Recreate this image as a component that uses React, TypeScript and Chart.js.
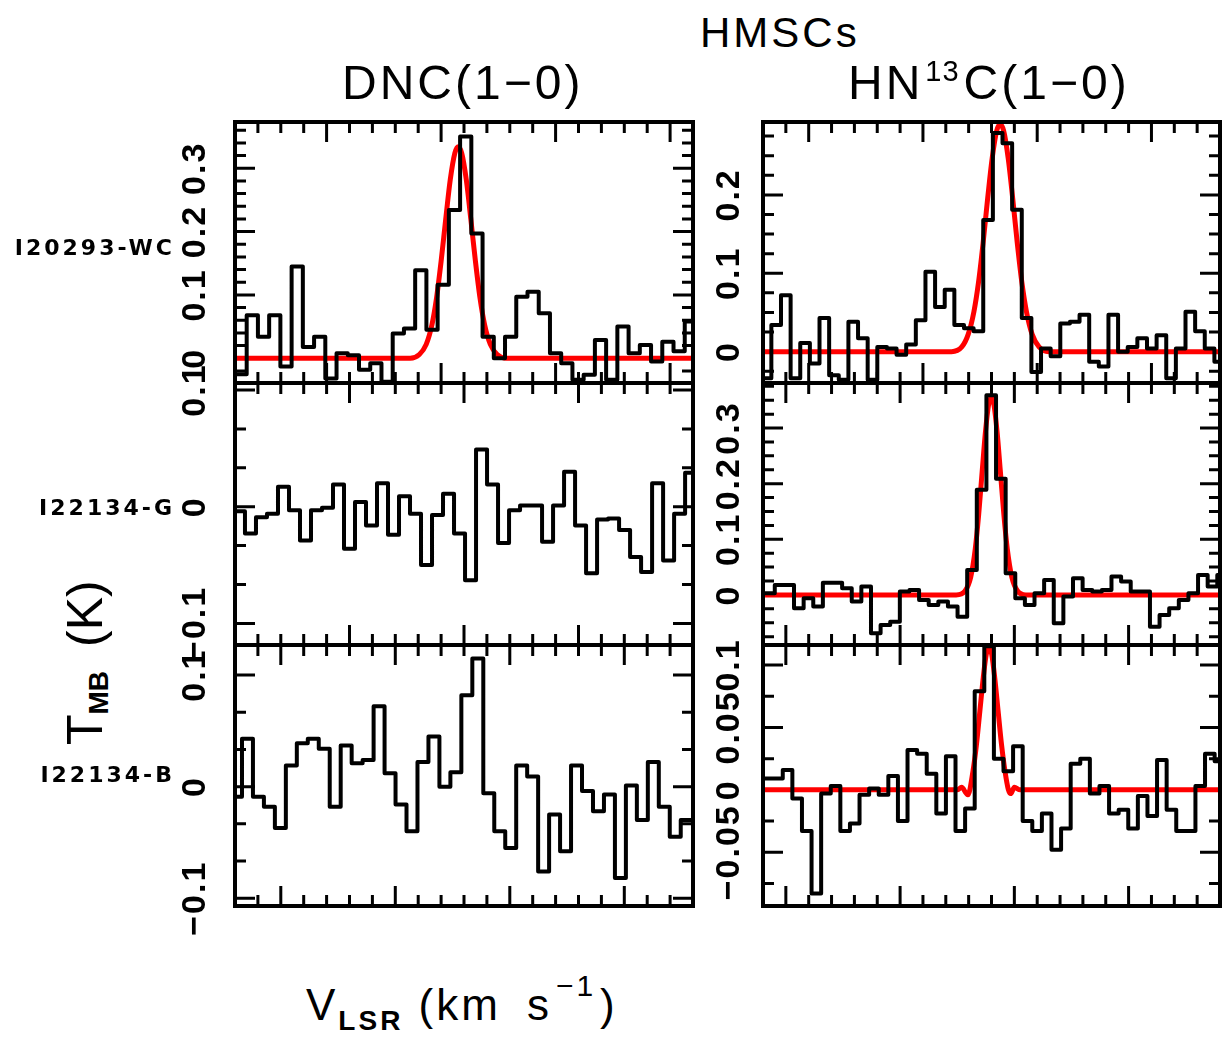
import React, { useEffect, useRef } from "react";
import { Chart, registerables } from "chart.js";

Chart.register(...registerables);

// ---------------- data ----------------
const sources = ["I20293-WC", "I22134-G", "I22134-B"];

// velocity axis of every panel (km/s)
const dncVelocityRange = [[-18, 22], [-20, 20], [-14, 26]];
const hn13cVelocityRange = [[-14, 26], [-12, 28], [-12, 28]];

// channel grid of each spectrum: centre of first channel, channel width (km/s)
const dncChannelStart = [-17.47, -19.61, -13.87];
const dncChannelWidth = [0.981, 0.961, 0.958];
const hn13cChannelStart = [-13.69, -11.39, -11.53];
const hn13cChannelWidth = [0.843, 0.842, 0.84];

// observed spectra, T_MB (K)
const dncI20293 = [-0.025, 0.068, 0.034, 0.068, -0.013, 0.145, 0.018, 0.034, -0.032, 0.008, 0.005, -0.018, -0.008, -0.037, 0.039, 0.047, 0.139, 0.045, 0.116, 0.234, 0.35, 0.197, 0.034, 0.0, 0.034, 0.097, 0.105, 0.071, 0.008, -0.008, -0.034, -0.026, 0.029, -0.034, 0.05, 0.008, 0.021, -0.005, 0.026, 0.011, 0.058];
const dncI22134G = [-0.004, -0.023, -0.009, -0.006, 0.017, -0.003, -0.029, -0.003, -0.001, 0.019, -0.036, 0.004, -0.016, 0.02, -0.024, 0.009, -0.006, -0.05, -0.007, 0.011, -0.023, -0.063, 0.049, 0.019, -0.031, -0.003, 0.001, 0.001, -0.03, 0.001, 0.03, -0.016, -0.057, -0.011, -0.01, -0.02, -0.043, -0.056, 0.02, -0.046, -0.006, 0.029];
const dncI22134B = [-0.009, 0.043, -0.009, -0.018, -0.037, 0.019, 0.039, 0.043, 0.034, -0.018, 0.037, 0.021, 0.024, 0.072, 0.012, -0.016, -0.04, 0.022, 0.045, 0.0, 0.013, 0.082, 0.115, -0.006, -0.04, -0.055, 0.019, 0.009, -0.076, -0.025, -0.058, 0.019, -0.004, -0.022, -0.007, -0.082, 0.001, -0.03, 0.022, -0.018, -0.045, -0.03];
const hn13cI20293 = [-0.034, 0.034, 0.072, -0.034, 0.011, -0.015, 0.043, -0.03, -0.036, 0.038, 0.017, -0.036, 0.006, 0.004, -0.004, 0.009, 0.04, 0.102, 0.057, 0.079, 0.034, 0.03, 0.026, 0.168, 0.279, 0.266, 0.181, 0.043, -0.026, 0.004, -0.006, 0.036, 0.038, 0.047, -0.013, -0.019, 0.047, 0.0, 0.006, 0.017, 0.004, 0.021, -0.034, 0.004, 0.051, 0.026, 0.004, -0.013];
const hn13cI22134G = [0.003, 0.018, 0.018, -0.024, -0.006, -0.021, 0.022, 0.022, 0.012, -0.012, 0.015, -0.069, -0.054, -0.048, 0.006, 0.009, -0.009, -0.018, -0.012, -0.021, -0.039, 0.045, 0.189, 0.359, 0.209, 0.039, -0.006, -0.018, 0.003, 0.027, -0.051, -0.003, 0.03, 0.009, 0.006, 0.009, 0.033, 0.024, 0.006, 0.006, -0.057, -0.036, -0.024, -0.009, 0.003, 0.036, 0.015, 0.036];
const hn13cI22134B = [0.009, 0.009, 0.016, -0.007, -0.033, -0.083, -0.003, 0.003, -0.033, -0.027, -0.004, 0.001, -0.004, 0.011, -0.025, 0.032, 0.029, 0.013, -0.019, 0.027, -0.033, -0.015, 0.079, 0.115, 0.025, 0.015, 0.035, -0.025, -0.033, -0.019, -0.048, -0.031, 0.021, 0.025, -0.003, 0.003, -0.019, -0.016, -0.031, -0.005, -0.021, 0.024, -0.016, -0.033, -0.033, 0.003, 0.029, 0.023];

// Gaussian fits (red), [velocity, T_MB]
const dncI20293Fit = [[-18, 0], [-2.7, 0], [-1.9, 0.006], [-1.3, 0.022], [-0.8, 0.053], [-0.4, 0.095], [0, 0.153], [0.4, 0.219], [0.8, 0.282], [1.2, 0.324], [1.5, 0.334], [1.8, 0.324], [2.2, 0.282], [2.6, 0.219], [3.0, 0.153], [3.4, 0.095], [3.8, 0.053], [4.3, 0.022], [4.9, 0.006], [5.7, 0], [22, 0]];
const hn13cI20293Fit = [[-14, 0], [2.5, 0], [3.4, 0.006], [3.96, 0.022], [4.46, 0.051], [4.86, 0.088], [5.26, 0.138], [5.66, 0.195], [6.06, 0.247], [6.46, 0.282], [6.76, 0.29], [7.06, 0.282], [7.46, 0.247], [7.86, 0.195], [8.26, 0.138], [8.66, 0.088], [9.06, 0.051], [9.56, 0.022], [10.16, 0.006], [11, 0], [26, 0]];
const hn13cI22134GFit = [[-12, 0], [4.9, 0], [5.68, 0.007], [6.18, 0.032], [6.58, 0.083], [6.88, 0.145], [7.18, 0.221], [7.48, 0.295], [7.73, 0.34], [7.98, 0.356], [8.23, 0.34], [8.48, 0.295], [8.78, 0.221], [9.08, 0.145], [9.38, 0.083], [9.78, 0.032], [10.28, 0.007], [11, 0], [28, 0]];
const hn13cI22134BFit = [[-12, 0], [5.0, 0], [5.38, 0.002], [5.93, -0.004], [6.38, 0.015], [6.68, 0.036], [6.98, 0.063], [7.28, 0.09], [7.53, 0.108], [7.78, 0.115], [8.03, 0.108], [8.28, 0.09], [8.58, 0.063], [8.88, 0.036], [9.18, 0.015], [9.48, 0], [9.68, -0.003], [10.0, 0.002], [10.5, 0], [28, 0]];

// y axes
const dncYRange = [[-0.039, 0.373], [-0.1185, 0.106], [-0.107, 0.127]];
const hn13cYRange = [[-0.04, 0.293], [-0.09, 0.381], [-0.093, 0.116]];
const dncYTickLabels = [[0, 0.1, 0.2, 0.3], [-0.1, 0, 0.1], [-0.1, 0, 0.1]];
const hn13cYTickLabels = [[0, 0.1, 0.2], [0, 0.1, 0.2, 0.3], [-0.05, 0, 0.05, 0.1]];
const dncYMajor = [0.1, 0.1, 0.1];
const dncYMinorPerMajor = [5, 3, 3];
const hn13cYMajor = [0.1, 0.1, 0.05];
const hn13cYMinorPerMajor = [4, 4, 2];
const xMajorStep = 10;
const xMinorPerMajor = 5;

// ---------------- layout ----------------
const COLS = [{ left: 235, right: 693, labelOffset: 39 }, { left: 763, right: 1220, labelOffset: 33 }];
const ROWS = [{ top: 122, bottom: 383 }, { top: 383, bottom: 645 }, { top: 645, bottom: 906 }];
const PAD = { left: 80, right: 8, top: 44, bottom: 44 };
const SANS = '"Liberation Sans", Arial, sans-serif';

function spectrum(start: number, width: number, values: number[], range: number[]) {
  const pts = values.map((y, i) => ({ x: start + i * width, y }));
  if (pts[0].x > range[0]) pts.unshift({ x: range[0], y: pts[0].y });
  const last = pts[pts.length - 1];
  if (last.x < range[1]) pts.push({ x: range[1], y: last.y });
  return pts;
}

function fmt(v: number) {
  return String(v).replace("-", "\u2212");
}

type PanelCfg = {
  key: string;
  col: number;
  row: number;
  xRange: number[];
  yRange: number[];
  spec: { x: number; y: number }[];
  fit: number[][] | null;
  yLabels: number[];
  yMajor: number;
  yMinorPerMajor: number;
};

function Panel({ cfg }: { cfg: PanelCfg }) {
  const ref = useRef<HTMLCanvasElement>(null);
  const col = COLS[cfg.col];
  const row = ROWS[cfg.row];
  const w = col.right - col.left + PAD.left + PAD.right;
  const h = row.bottom - row.top + PAD.top + PAD.bottom;

  useEffect(() => {
    const framePlugin = {
      id: "frame_" + cfg.key,
      beforeDatasetsDraw(chart: any) {
        const { ctx, chartArea: a, scales } = chart;
        const xs = scales.x;
        const ys = scales.y;
        ctx.save();
        ctx.strokeStyle = "#000";
        ctx.lineWidth = 3;
        ctx.lineCap = "butt";
        ctx.beginPath();
        const xMinor = xMajorStep / xMinorPerMajor;
        for (let k = Math.ceil(xs.min / xMinor - 1e-6); k * xMinor <= xs.max + 1e-6; k++) {
          const px = xs.getPixelForValue(k * xMinor);
          const len = k % xMinorPerMajor === 0 ? 20 : 11;
          ctx.moveTo(px, a.top);
          ctx.lineTo(px, a.top + len);
          ctx.moveTo(px, a.bottom);
          ctx.lineTo(px, a.bottom - len);
        }
        const yMinor = cfg.yMajor / cfg.yMinorPerMajor;
        for (let k = Math.ceil(ys.min / yMinor - 1e-6); k * yMinor <= ys.max + 1e-6; k++) {
          const py = ys.getPixelForValue(k * yMinor);
          const len = k % cfg.yMinorPerMajor === 0 ? 20 : 11;
          ctx.moveTo(a.left, py);
          ctx.lineTo(a.left + len, py);
          ctx.moveTo(a.right, py);
          ctx.lineTo(a.right - len, py);
        }
        ctx.stroke();
        ctx.restore();
      },
      afterDatasetsDraw(chart: any) {
        const { ctx, chartArea: a, scales } = chart;
        ctx.save();
        ctx.strokeStyle = "#000";
        ctx.lineWidth = 4;
        ctx.strokeRect(a.left, a.top, a.right - a.left, a.bottom - a.top);
        ctx.fillStyle = "#000";
        ctx.font = "bold 34px " + SANS;
        try {
          (ctx as any).letterSpacing = "2px";
        } catch (e) {}
        ctx.textAlign = "center";
        ctx.textBaseline = "middle";
        for (const v of cfg.yLabels) {
          const py = scales.y.getPixelForValue(v);
          ctx.save();
          ctx.translate(a.left - col.labelOffset, py);
          ctx.rotate(-Math.PI / 2);
          ctx.fillText(fmt(v), 0, 0);
          ctx.restore();
        }
        ctx.restore();
      },
    };

    const datasets: any[] = [
      {
        data: cfg.spec,
        borderColor: "#000000",
        borderWidth: 4,
        stepped: "middle",
        pointRadius: 0,
        borderJoinStyle: "round",
        borderCapStyle: "round",
        fill: false,
      },
    ];
    if (cfg.fit) {
      datasets.push({
        data: cfg.fit.map((p) => ({ x: p[0], y: p[1] })),
        borderColor: "#ff0000",
        borderWidth: 5,
        cubicInterpolationMode: "monotone",
        pointRadius: 0,
        borderCapStyle: "round",
        fill: false,
      });
    }

    const chart = new Chart(ref.current as HTMLCanvasElement, {
      type: "line",
      data: { datasets },
      options: {
        animation: false,
        responsive: false,
        devicePixelRatio: 1,
        events: [],
        layout: { padding: PAD },
        plugins: { legend: { display: false }, tooltip: { enabled: false }, title: { display: false } },
        scales: {
          x: { type: "linear", min: cfg.xRange[0], max: cfg.xRange[1], display: false },
          y: { type: "linear", min: cfg.yRange[0], max: cfg.yRange[1], display: false },
        },
      } as any,
      plugins: [framePlugin as any],
    });
    return () => chart.destroy();
  }, []);

  return (
    <canvas
      ref={ref}
      width={w}
      height={h}
      style={{ position: "absolute", left: col.left - PAD.left, top: row.top - PAD.top, width: w, height: h }}
    />
  );
}

const panels: PanelCfg[] = [
  { key: "r1l", col: 0, row: 0, xRange: dncVelocityRange[0], yRange: dncYRange[0], spec: spectrum(dncChannelStart[0], dncChannelWidth[0], dncI20293, dncVelocityRange[0]), fit: dncI20293Fit, yLabels: dncYTickLabels[0], yMajor: dncYMajor[0], yMinorPerMajor: dncYMinorPerMajor[0] },
  { key: "r2l", col: 0, row: 1, xRange: dncVelocityRange[1], yRange: dncYRange[1], spec: spectrum(dncChannelStart[1], dncChannelWidth[1], dncI22134G, dncVelocityRange[1]), fit: null, yLabels: dncYTickLabels[1], yMajor: dncYMajor[1], yMinorPerMajor: dncYMinorPerMajor[1] },
  { key: "r3l", col: 0, row: 2, xRange: dncVelocityRange[2], yRange: dncYRange[2], spec: spectrum(dncChannelStart[2], dncChannelWidth[2], dncI22134B, dncVelocityRange[2]), fit: null, yLabels: dncYTickLabels[2], yMajor: dncYMajor[2], yMinorPerMajor: dncYMinorPerMajor[2] },
  { key: "r1r", col: 1, row: 0, xRange: hn13cVelocityRange[0], yRange: hn13cYRange[0], spec: spectrum(hn13cChannelStart[0], hn13cChannelWidth[0], hn13cI20293, hn13cVelocityRange[0]), fit: hn13cI20293Fit, yLabels: hn13cYTickLabels[0], yMajor: hn13cYMajor[0], yMinorPerMajor: hn13cYMinorPerMajor[0] },
  { key: "r2r", col: 1, row: 1, xRange: hn13cVelocityRange[1], yRange: hn13cYRange[1], spec: spectrum(hn13cChannelStart[1], hn13cChannelWidth[1], hn13cI22134G, hn13cVelocityRange[1]), fit: hn13cI22134GFit, yLabels: hn13cYTickLabels[1], yMajor: hn13cYMajor[1], yMinorPerMajor: hn13cYMinorPerMajor[1] },
  { key: "r3r", col: 1, row: 2, xRange: hn13cVelocityRange[2], yRange: hn13cYRange[2], spec: spectrum(hn13cChannelStart[2], hn13cChannelWidth[2], hn13cI22134B, hn13cVelocityRange[2]), fit: hn13cI22134BFit, yLabels: hn13cYTickLabels[2], yMajor: hn13cYMajor[2], yMinorPerMajor: hn13cYMinorPerMajor[2] },
];

const rowLabelCenters = [248, 508, 775];

export default function App() {
  const abs: React.CSSProperties = { position: "absolute", whiteSpace: "nowrap", lineHeight: 1, color: "#000" };
  return (
    <div style={{ position: "absolute", left: 0, top: 0, width: 1222, height: 1040, background: "#fff", overflow: "hidden" }}>
      {panels.map((p) => (
        <Panel key={p.key} cfg={p} />
      ))}
      <div style={{ ...abs, left: 700, top: 12, fontFamily: SANS, fontSize: 42, letterSpacing: 3 }}>HMSCs</div>
      <div style={{ ...abs, left: 342, top: 59, fontFamily: SANS, fontSize: 48, letterSpacing: 3 }}>DNC(1{"\u2212"}0)</div>
      <div style={{ ...abs, left: 848, top: 59, fontFamily: SANS, fontSize: 48, letterSpacing: 3 }}>
        HN<span style={{ fontSize: 29, letterSpacing: 1, marginLeft: 2, marginRight: 4, position: "relative", top: -18 }}>13</span>C(1{"\u2212"}0)
      </div>
      {sources.map((s, i) => (
        <div
          key={s}
          style={{ ...abs, left: 0, width: 175, textAlign: "right", top: rowLabelCenters[i] - 11, fontFamily: '"DejaVu Sans", sans-serif', fontWeight: "bold", fontSize: 22, letterSpacing: 3 }}
        >
          {s}
        </div>
      ))}
      <div style={{ ...abs, left: 60, top: 745, transformOrigin: "0 0", transform: "rotate(-90deg)", fontFamily: SANS, fontSize: 50 }}>
        T<span style={{ fontSize: 28, fontWeight: "bold", position: "relative", top: 6 }}>MB</span>
        <span style={{ marginLeft: 24 }}>(K)</span>
      </div>
      <div style={{ ...abs, left: 306, top: 983, fontFamily: SANS, fontSize: 44, letterSpacing: 3 }}>
        V<span style={{ fontSize: 28, fontWeight: "bold", position: "relative", top: 10 }}>LSR</span> (km<span style={{ marginLeft: 26 }}>s</span>
        <span style={{ fontSize: 30, marginLeft: 4, marginRight: 4, position: "relative", top: -24 }}>{"\u2212"}1</span>)
      </div>
    </div>
  );
}
